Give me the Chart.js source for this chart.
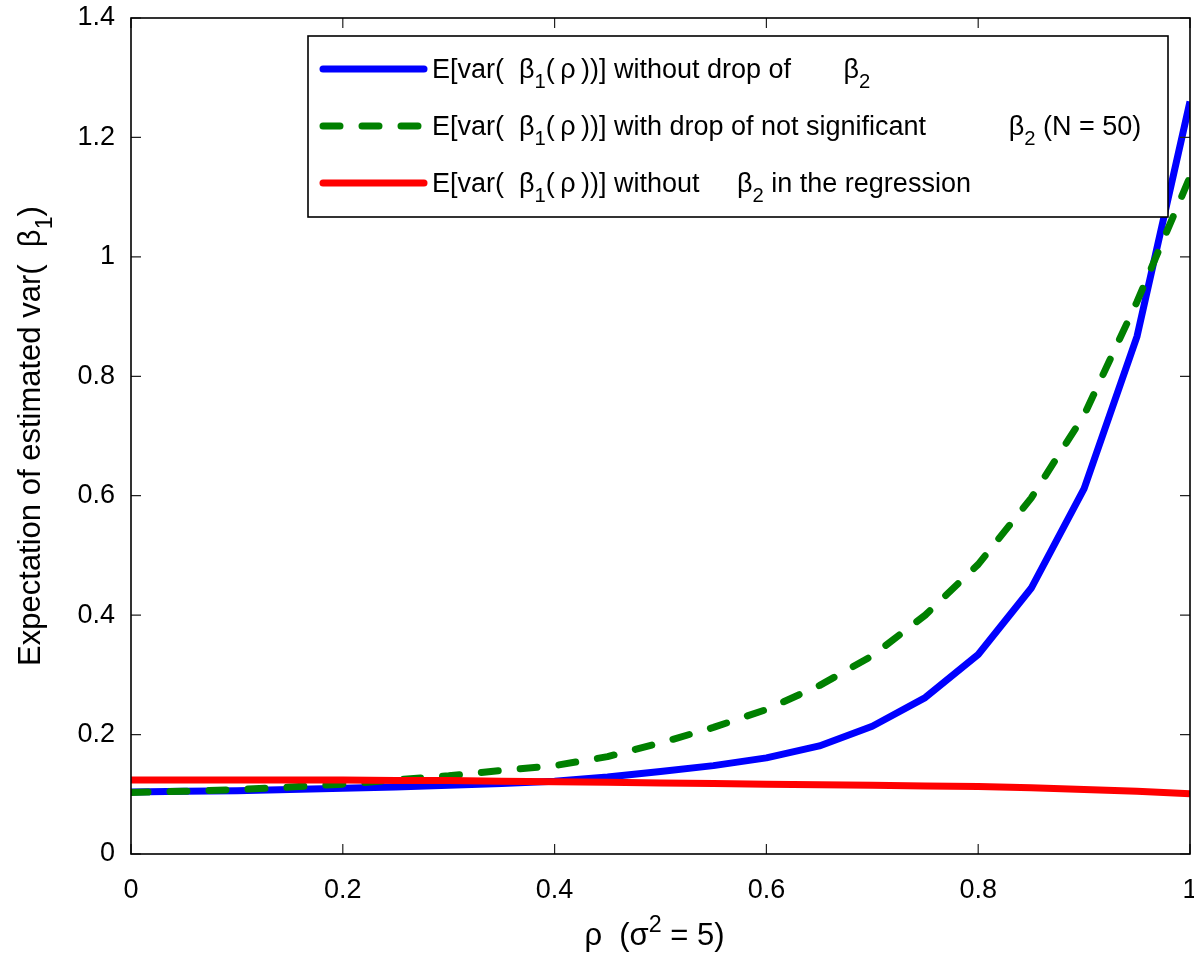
<!DOCTYPE html>
<html>
<head>
<meta charset="utf-8">
<script src="https://cdn.jsdelivr.net/npm/chart.js@4/dist/chart.umd.min.js"></script>
<style>
  html, body { margin: 0; padding: 0; background: #fff; }
  #chart { display: block; }
</style>
</head>
<body>
<canvas id="chart" width="1194" height="953"></canvas>
<script>
// rho values (x axis)
const rho = [0, 0.05, 0.1, 0.15, 0.2, 0.25, 0.3, 0.35, 0.4, 0.45, 0.5,
             0.55, 0.6, 0.65, 0.7, 0.75, 0.8, 0.85, 0.9, 0.95, 1];
// E[var(beta1(rho))] without drop of beta2
const varNoDrop = [0.104, 0.105, 0.106, 0.108, 0.110, 0.112, 0.115, 0.118, 0.122, 0.129, 0.138,
                   0.148, 0.161, 0.181, 0.214, 0.262, 0.334, 0.445, 0.612, 0.867, 1.260];
// with drop of not significant beta2 (N = 50)
const varDropNotSig = [0.103, 0.105, 0.108, 0.112, 0.117, 0.124, 0.131, 0.140, 0.148, 0.163, 0.186,
                       0.212, 0.242, 0.282, 0.332, 0.400, 0.485, 0.596, 0.735, 0.925, 1.134];
// without beta2 in the regression
const varWithoutB2 = [0.124, 0.124, 0.124, 0.124, 0.124, 0.123, 0.123, 0.122, 0.121, 0.120, 0.119,
                      0.118, 0.117, 0.116, 0.115, 0.114, 0.113, 0.111, 0.108, 0.105, 0.101];

const xTickValues = [0, 0.2, 0.4, 0.6, 0.8, 1];
const xTickLabels = ['0', '0.2', '0.4', '0.6', '0.8', '1'];
const yTickValues = [0, 0.2, 0.4, 0.6, 0.8, 1, 1.2, 1.4];
const yTickLabels = ['0', '0.2', '0.4', '0.6', '0.8', '1', '1.2', '1.4'];

// _x = subscript, ^x = superscript
const seriesNames = [
  'E[var(  β_1(\u2009ρ\u2009))] without drop of       β_2',
  'E[var(  β_1(\u2009ρ\u2009))] with drop of not significant           β_2 (N = 50)',
  'E[var(  β_1(\u2009ρ\u2009))] without     β_2 in the regression'
];
const xTitle = 'ρ  (σ^2 = 5)';
const yTitle = 'Expectation of estimated var(  β_1)';

const FONT = '"Liberation Sans", Arial, Helvetica, sans-serif';

function parseTex(str) {
  let parts = [];
  let re = /([_^])(.)/g;
  let last = 0, m;
  while ((m = re.exec(str)) !== null) {
    if (m.index > last) parts.push({t: str.slice(last, m.index)});
    parts.push({t: m[2], sub: m[1] === '_', sup: m[1] === '^'});
    last = re.lastIndex;
  }
  if (last < str.length) parts.push({t: str.slice(last)});
  return parts;
}

function texWidth(ctx, str, size) {
  let w = 0;
  for (let p of parseTex(str)) {
    let fs = (p.sub || p.sup) ? size * 0.75 : size;
    ctx.font = fs + 'px ' + FONT;
    w += ctx.measureText(p.t).width;
  }
  return w;
}

function drawTex(ctx, str, x, y, size) {
  ctx.textAlign = 'left';
  ctx.textBaseline = 'alphabetic';
  for (let p of parseTex(str)) {
    let fs = size, dy = 0;
    if (p.sub) { fs = size * 0.75; dy = size * 0.38; }
    if (p.sup) { fs = size * 0.75; dy = -size * 0.42; }
    ctx.font = fs + 'px ' + FONT;
    ctx.fillText(p.t, x, y + dy);
    x += ctx.measureText(p.t).width;
  }
  return x;
}

// drop the extra room Chart.js keeps for tick labels, so the plot box sits where the padding says
function noScalePadding(s) {
  s.paddingTop = 0; s.paddingBottom = 0; s.paddingLeft = 0; s.paddingRight = 0;
}

const frameAndLegend = {
  id: 'frameAndLegend',
  afterDatasetsDraw(chart) {
    const ctx = chart.ctx;
    const a = chart.chartArea;
    const xs = chart.scales.x, ys = chart.scales.y;
    ctx.save();
    // inward ticks on all four sides
    ctx.strokeStyle = '#222';
    ctx.lineWidth = 1.2;
    ctx.beginPath();
    xTickValues.forEach(v => {
      let px = xs.getPixelForValue(v);
      ctx.moveTo(px, a.bottom); ctx.lineTo(px, a.bottom - 10);
      ctx.moveTo(px, a.top); ctx.lineTo(px, a.top + 10);
    });
    yTickValues.forEach(v => {
      let py = ys.getPixelForValue(v);
      ctx.moveTo(a.left, py); ctx.lineTo(a.left + 10, py);
      ctx.moveTo(a.right, py); ctx.lineTo(a.right - 10, py);
    });
    ctx.stroke();
    // box
    ctx.strokeStyle = '#000';
    ctx.lineWidth = 1.6;
    ctx.strokeRect(a.left, a.top, a.right - a.left, a.bottom - a.top);

    // legend
    const lx = 308, ly = 36, lw = 860, lh = 181;
    ctx.fillStyle = '#fff';
    ctx.fillRect(lx, ly, lw, lh);
    ctx.strokeRect(lx, ly, lw, lh);
    const rowY = [69, 126, 183];
    chart.data.datasets.forEach((ds, i) => {
      let y = rowY[i];
      ctx.beginPath();
      ctx.strokeStyle = ds.borderColor;
      ctx.lineWidth = ds.borderWidth;
      ctx.lineCap = 'round';
      ctx.setLineDash(ds.borderDash || []);
      ctx.moveTo(323, y);
      ctx.lineTo(424, y);
      ctx.stroke();
      ctx.setLineDash([]);
      ctx.fillStyle = '#000';
      drawTex(ctx, seriesNames[i], 432, y + 9, 27);
    });

    // axis titles
    ctx.fillStyle = '#000';
    let xw = texWidth(ctx, xTitle, 31);
    drawTex(ctx, xTitle, (a.left + a.right) / 2 - xw / 2 - 6, 945, 31);
    ctx.save();
    ctx.translate(40, (a.top + a.bottom) / 2);
    ctx.rotate(-Math.PI / 2);
    let yw = texWidth(ctx, yTitle, 31);
    drawTex(ctx, yTitle, -yw / 2, 0, 31);
    ctx.restore();
    ctx.restore();
  }
};

const ctx = document.getElementById('chart').getContext('2d');
new Chart(ctx, {
  type: 'line',
  data: {
    datasets: [
      {
        data: rho.map((r, i) => ({x: r, y: varNoDrop[i]})),
        borderColor: '#0000ff',
        borderWidth: 7,
        order: 3
      },
      {
        data: rho.map((r, i) => ({x: r, y: varDropNotSig[i]})),
        borderColor: '#008000',
        borderWidth: 7,
        borderDash: [17, 22],
        borderCapStyle: 'round',
        order: 2
      },
      {
        data: rho.map((r, i) => ({x: r, y: varWithoutB2[i]})),
        borderColor: '#ff0000',
        borderWidth: 7,
        order: 1
      }
    ]
  },
  plugins: [frameAndLegend],
  options: {
    responsive: false,
    animation: false,
    events: [],
    elements: {
      point: { radius: 0 },
      line: { tension: 0, borderJoinStyle: 'round', fill: false }
    },
    layout: { padding: { top: 18, right: 4, left: 0, bottom: 0 } },
    plugins: { legend: { display: false }, tooltip: { enabled: false } },
    scales: {
      x: {
        type: 'linear',
        min: 0,
        max: 1,
        afterBuildTicks: s => { s.ticks = xTickValues.map(v => ({value: v})); },
        afterFit: s => { s.height = 99; noScalePadding(s); },
        grid: { display: false, drawTicks: false },
        border: { display: false },
        ticks: {
          padding: 20,
          color: '#000',
          font: { family: FONT, size: 27 },
          callback: (v, i) => xTickLabels[i]
        }
      },
      y: {
        type: 'linear',
        min: 0,
        max: 1.4,
        afterBuildTicks: s => { s.ticks = yTickValues.map(v => ({value: v})); },
        afterFit: s => { s.width = 131; noScalePadding(s); },
        grid: { display: false, drawTicks: false },
        border: { display: false },
        ticks: {
          padding: 16,
          color: '#000',
          font: { family: FONT, size: 27 },
          callback: (v, i) => yTickLabels[i]
        }
      }
    }
  }
});
</script>
</body>
</html>
